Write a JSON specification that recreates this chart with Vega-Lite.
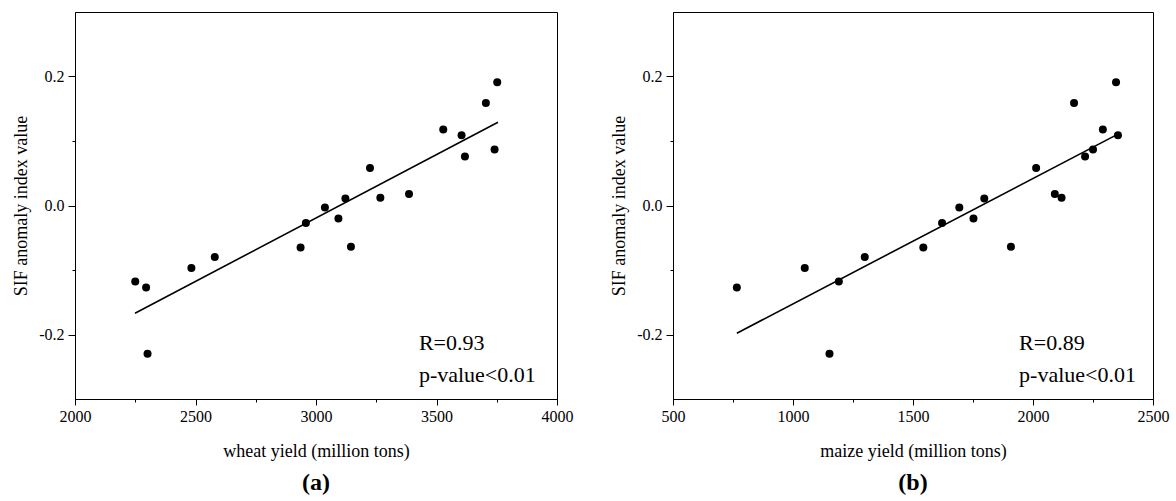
{
  "$schema": "https://vega.github.io/schema/vega-lite/v6.json",
  "background": "white",
  "padding": {"left": 12, "top": 11, "right": 5, "bottom": 5},
  "spacing": 116,
  "bounds": "flush",
  "config": {
    "font": "Liberation Serif",
    "view": {"stroke": "black", "strokeWidth": 1},
    "axis": {
      "domainColor": "black",
      "tickColor": "black",
      "labelColor": "black",
      "titleColor": "black",
      "labelFont": "Liberation Serif",
      "titleFont": "Liberation Serif",
      "labelFontSize": 16,
      "titleFontSize": 18,
      "titleFontWeight": "normal",
      "grid": false,
      "tickWidth": 1,
      "domainWidth": 1
    },
    "title": {"font": "Liberation Serif", "color": "black"},
    "text": {"font": "Liberation Serif"}
  },
  "datasets": {
    "wheat": [
      {"yield": 2250, "sif": -0.118}, {"yield": 2295, "sif": -0.127}, {"yield": 2301, "sif": -0.230},
      {"yield": 2483, "sif": -0.097}, {"yield": 2580, "sif": -0.080}, {"yield": 2936, "sif": -0.065},
      {"yield": 2958, "sif": -0.027}, {"yield": 3037, "sif": -0.003}, {"yield": 3093, "sif": -0.020},
      {"yield": 3122, "sif": 0.011}, {"yield": 3145, "sif": -0.064}, {"yield": 3224, "sif": 0.058},
      {"yield": 3267, "sif": 0.012}, {"yield": 3386, "sif": 0.018}, {"yield": 3528, "sif": 0.118},
      {"yield": 3604, "sif": 0.109}, {"yield": 3618, "sif": 0.076}, {"yield": 3705, "sif": 0.159},
      {"yield": 3741, "sif": 0.087}, {"yield": 3752, "sif": 0.191}
    ],
    "maize": [
      {"yield": 766, "sif": -0.127}, {"yield": 1049, "sif": -0.097}, {"yield": 1152, "sif": -0.230},
      {"yield": 1191, "sif": -0.118}, {"yield": 1299, "sif": -0.080}, {"yield": 1543, "sif": -0.065},
      {"yield": 1621, "sif": -0.027}, {"yield": 1693, "sif": -0.003}, {"yield": 1752, "sif": -0.020},
      {"yield": 1797, "sif": 0.011}, {"yield": 1908, "sif": -0.064}, {"yield": 2013, "sif": 0.058},
      {"yield": 2091, "sif": 0.018}, {"yield": 2119, "sif": 0.012}, {"yield": 2171, "sif": 0.159},
      {"yield": 2217, "sif": 0.076}, {"yield": 2250, "sif": 0.087}, {"yield": 2291, "sif": 0.118},
      {"yield": 2346, "sif": 0.191}, {"yield": 2354, "sif": 0.109}
    ],
    "wheatFit": [{"yield": 2249, "sif": -0.167}, {"yield": 3755, "sif": 0.129}],
    "maizeFit": [{"yield": 766, "sif": -0.198}, {"yield": 2340, "sif": 0.108}],
    "wheatNote": [{"yield": 3427, "sif": -0.2247, "label": "R=0.93"}, {"yield": 3427, "sif": -0.274, "label": "p-value<0.01"}],
    "maizeNote": [{"yield": 1942, "sif": -0.2247, "label": "R=0.89"}, {"yield": 1942, "sif": -0.274, "label": "p-value<0.01"}]
  },
  "hconcat": [
    {
      "width": 482,
      "height": 387,
      "title": {"text": "(a)", "orient": "bottom", "fontSize": 24, "fontWeight": "bold", "offset": 11},
      "encoding": {
        "x": {
          "field": "yield", "type": "quantitative",
          "scale": {"domain": [2000, 4000], "nice": false, "zero": false},
          "axis": {
            "title": "wheat yield (million tons)",
            "values": [2000, 2250, 2500, 2750, 3000, 3250, 3500, 3750, 4000],
            "labelExpr": "datum.value % 500 == 0 ? format(datum.value, 'd') : ''",
            "tickSize": {"condition": {"test": "datum.value % 500 != 0", "value": 3}, "value": 6},
            "labelPadding": 3,
            "titlePadding": 18,
            "labelFlush": false
          }
        },
        "y": {
          "field": "sif", "type": "quantitative",
          "scale": {"domain": [-0.3, 0.3], "nice": false, "zero": false},
          "axis": {
            "title": "SIF anomaly index value",
            "values": [-0.2, -0.1, 0, 0.1, 0.2],
            "labelExpr": "abs(round(datum.value * 10)) % 2 == 1 ? '' : replace(format(datum.value, '.1f'), '\u2212', '-')",
            "tickSize": {"condition": {"test": "abs(round(datum.value * 10)) % 2 == 1", "value": 3}, "value": 7},
            "labelPadding": 4,
            "titlePadding": 8
          }
        }
      },
      "layer": [
        {"data": {"name": "wheat"}, "mark": {"type": "circle", "size": 64, "color": "black", "opacity": 1}},
        {"data": {"name": "wheatFit"}, "mark": {"type": "line", "color": "black", "strokeWidth": 1.6}},
        {"data": {"name": "wheatNote"}, "mark": {"type": "text", "align": "left", "baseline": "alphabetic", "fontSize": 22, "font": "Liberation Serif", "color": "black"}, "encoding": {"text": {"field": "label"}}}
      ]
    },
    {
      "width": 480,
      "height": 387,
      "title": {"text": "(b)", "orient": "bottom", "fontSize": 24, "fontWeight": "bold", "offset": 11},
      "encoding": {
        "x": {
          "field": "yield", "type": "quantitative",
          "scale": {"domain": [500, 2500], "nice": false, "zero": false},
          "axis": {
            "title": "maize yield (million tons)",
            "values": [500, 750, 1000, 1250, 1500, 1750, 2000, 2250, 2500],
            "labelExpr": "datum.value % 500 == 0 ? format(datum.value, 'd') : ''",
            "tickSize": {"condition": {"test": "datum.value % 500 != 0", "value": 3}, "value": 6},
            "labelPadding": 3,
            "titlePadding": 18,
            "labelFlush": false
          }
        },
        "y": {
          "field": "sif", "type": "quantitative",
          "scale": {"domain": [-0.3, 0.3], "nice": false, "zero": false},
          "axis": {
            "title": "SIF anomaly index value",
            "values": [-0.2, -0.1, 0, 0.1, 0.2],
            "labelExpr": "abs(round(datum.value * 10)) % 2 == 1 ? '' : replace(format(datum.value, '.1f'), '\u2212', '-')",
            "tickSize": {"condition": {"test": "abs(round(datum.value * 10)) % 2 == 1", "value": 3}, "value": 7},
            "labelPadding": 4,
            "titlePadding": 8
          }
        }
      },
      "layer": [
        {"data": {"name": "maize"}, "mark": {"type": "circle", "size": 64, "color": "black", "opacity": 1}},
        {"data": {"name": "maizeFit"}, "mark": {"type": "line", "color": "black", "strokeWidth": 1.6}},
        {"data": {"name": "maizeNote"}, "mark": {"type": "text", "align": "left", "baseline": "alphabetic", "fontSize": 22, "font": "Liberation Serif", "color": "black"}, "encoding": {"text": {"field": "label"}}}
      ]
    }
  ]
}
